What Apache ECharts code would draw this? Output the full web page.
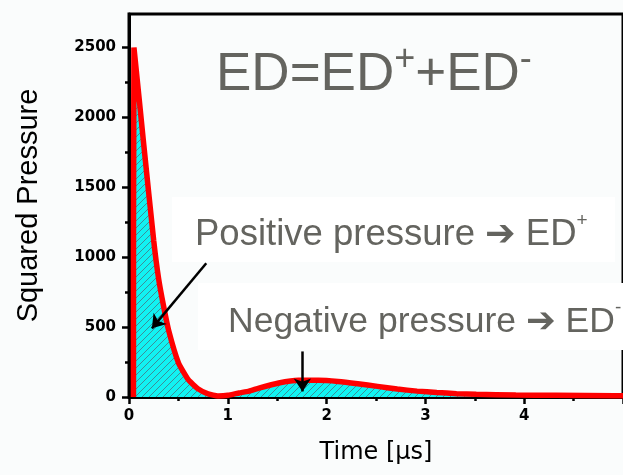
<!DOCTYPE html>
<html>
<head>
<meta charset="utf-8">
<script src="https://cdn.jsdelivr.net/npm/echarts@6/dist/echarts.min.js"></script>
<style>
  html, body { margin: 0; padding: 0; background: #fafcfc; }
  #main { width: 623px; height: 475px; }
</style>
</head>
<body>
<div id="main"></div>
<script>
// squared pressure trace
var timeUs = [0.045, 0.05, 0.15, 0.25, 0.3, 0.35, 0.4, 0.5, 0.6, 0.7, 0.8, 0.9, 1.0, 1.115, 1.215, 1.315, 1.515, 1.715, 1.915, 2.115, 2.315, 2.515, 2.715, 2.915, 3.115, 3.315, 3.515, 3.915, 4.315, 4.915, 5.0];
var squaredPressure = [0, 2500, 1800, 1120, 845, 650, 480, 245, 124, 58, 22, 8, 12, 29, 42, 64, 100, 119, 119, 111, 95, 76, 57, 42, 32, 24, 19, 14, 12, 9, 9];
var yTicks = [0, 500, 1000, 1500, 2000, 2500];
var yMinorTicks = [250, 750, 1250, 1750, 2250];

// arrows: [start, end] in data coords
var arrowPositive = [[0.782, 957], [0.232, 491]];
var arrowNegative = [[1.755, 326], [1.755, 40]];

var textGray = '#64645f';

var points = timeUs.map(function (t, i) { return [t, squaredPressure[i]]; });

// cyan fill with thin diagonal hatch
function hatch() {
  var c = document.createElement('canvas');
  c.width = 7; c.height = 7;
  var ctx = c.getContext('2d');
  ctx.fillStyle = '#12f2f2';
  ctx.fillRect(0, 0, 7, 7);
  ctx.strokeStyle = '#3b8f98';
  ctx.lineWidth = 1;
  ctx.beginPath();
  ctx.moveTo(-1, 8); ctx.lineTo(8, -1);
  ctx.moveTo(-1, 1); ctx.lineTo(1, -1);
  ctx.moveTo(6, 8); ctx.lineTo(8, 6);
  ctx.stroke();
  return c;
}

function plain(v) { return String(v); }

var chart = echarts.init(document.getElementById('main'));

var option = {
  backgroundColor: '#fafcfc',
  animation: false,
  grid: {
    left: 129,
    top: 14,
    width: 500,
    height: 383,
    show: true,
    borderColor: '#000',
    borderWidth: 3,
    backgroundColor: 'transparent'
  },
  xAxis: {
    type: 'value',
    min: 0,
    max: 5,
    interval: 1,
    name: 'Time [μs]',
    nameLocation: 'middle',
    nameGap: 44,
    nameTextStyle: { fontFamily: 'DejaVu Sans', fontSize: 24, color: '#000' },
    axisLine: { lineStyle: { color: '#000', width: 3 } },
    axisTick: { length: 7, lineStyle: { color: '#000', width: 2.5 } },
    minorTick: { show: true, splitNumber: 2, length: 4, lineStyle: { color: '#000', width: 2.5 } },
    splitLine: { show: false },
    axisLabel: {
      showMaxLabel: false,
      formatter: plain,
      margin: 12,
      fontFamily: 'DejaVu Sans',
      fontWeight: 'bold',
      fontSize: 15,
      color: '#000'
    }
  },
  yAxis: [{
    type: 'value',
    min: 0,
    max: 2740,
    name: 'Squared Pressure',
    nameLocation: 'middle',
    nameGap: 86,
    nameTextStyle: { fontFamily: 'Liberation Sans', fontSize: 29, color: '#000' },
    axisLine: { show: true, lineStyle: { color: '#000', width: 3 } },
    axisTick: { show: true, customValues: yTicks, length: 7, lineStyle: { color: '#000', width: 2.5 } },
    splitLine: { show: false },
    axisLabel: {
      customValues: yTicks,
      formatter: plain,
      margin: 13,
      fontFamily: 'DejaVu Sans',
      fontWeight: 'bold',
      fontSize: 15,
      color: '#000'
    }
  }, {
    // minor ticks only
    type: 'value',
    min: 0,
    max: 2740,
    position: 'left',
    axisLine: { show: false },
    axisTick: { show: true, customValues: yMinorTicks, length: 4, lineStyle: { color: '#000', width: 2.5 } },
    axisLabel: { show: false },
    splitLine: { show: false }
  }],
  series: [{
    type: 'line',
    data: points,
    symbol: 'none',
    smooth: 0.15,
    lineStyle: { color: '#ff0000', width: 5.5 },
    areaStyle: { color: { image: hatch(), repeat: 'repeat' }, opacity: 1 },
    z: 3,
    markLine: {
      silent: true,
      symbol: ['none', 'arrow'],
      symbolSize: 13,
      label: { show: false },
      lineStyle: { color: '#000', width: 2.5, type: 'solid' },
      data: [
        [{ coord: arrowPositive[0] }, { coord: arrowPositive[1] }],
        [{ coord: arrowNegative[0] }, { coord: arrowNegative[1] }]
      ]
    }
  }],
  graphic: [
    { type: 'rect', left: 172, top: 197, shape: { width: 443, height: 65 }, style: { fill: '#ffffff' }, z: 1 },
    { type: 'rect', left: 198, top: 283, shape: { width: 430, height: 67 }, style: { fill: '#ffffff' }, z: 1 },
    {
      type: 'text', x: 216, y: 42, z: 10,
      style: {
        text: '{m|ED=ED}{s|+}{m|+ED}{s|-}',
        fill: textGray,
        rich: {
          m: { fontFamily: 'Liberation Sans', fontSize: 53, lineHeight: 60, fill: textGray, verticalAlign: 'bottom' },
          s: { fontFamily: 'Liberation Sans', fontSize: 36, lineHeight: 40, fill: textGray, verticalAlign: 'top' }
        }
      }
    },
    {
      type: 'text', x: 195, y: 211, z: 10,
      style: {
        text: '{m|Positive pressure ➔ ED}{s|+}',
        fill: textGray,
        rich: {
          m: { fontFamily: 'Liberation Sans, DejaVu Sans', fontSize: 36.5, lineHeight: 42, fill: textGray, verticalAlign: 'bottom' },
          s: { fontFamily: 'Liberation Sans', fontSize: 19, lineHeight: 32, fill: textGray, verticalAlign: 'top' }
        }
      }
    },
    {
      type: 'text', x: 228, y: 298, z: 10,
      style: {
        text: '{m|Negative pressure ➔ ED}{s|-}',
        fill: textGray,
        rich: {
          m: { fontFamily: 'Liberation Sans, DejaVu Sans', fontSize: 35.5, lineHeight: 42, fill: textGray, verticalAlign: 'bottom' },
          s: { fontFamily: 'Liberation Sans', fontSize: 19, lineHeight: 32, fill: textGray, verticalAlign: 'top' }
        }
      }
    }
  ]
};

chart.setOption(option);
</script>
</body>
</html>
